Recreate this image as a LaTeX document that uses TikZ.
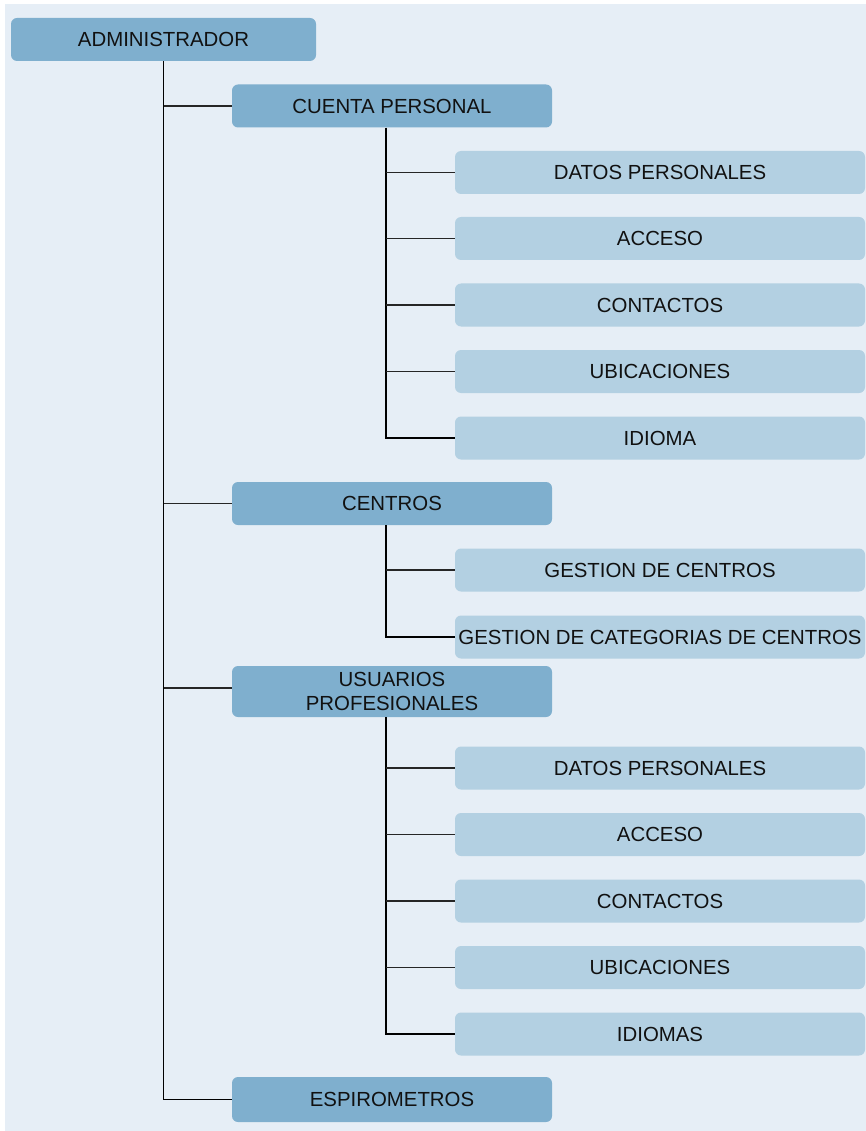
\documentclass[tikz,border=0pt]{standalone}
\usepackage{fontspec}
\setmainfont{Liberation Sans}
\definecolor{bgc}{HTML}{E6EEF6}
\definecolor{darkbox}{HTML}{7FAFCE}
\definecolor{lightbox}{HTML}{B3D0E2}
\definecolor{txt}{HTML}{111111}
\begin{document}
\begin{tikzpicture}[x=1pt,y=-1pt,
  base/.style={rectangle, rounded corners=6pt, inner sep=0pt, text=txt,
    font=\fontsize{20.4}{24}\selectfont, align=center},
  topbox/.style={base, fill=darkbox, minimum width=305pt, minimum height=43pt},
  midbox/.style={base, fill=darkbox, minimum width=320pt, minimum height=43pt},
  leafbox/.style={base, fill=lightbox, minimum width=410pt, minimum height=43pt},
  trunk/.style={draw=black, line width=1.5pt},
  branch/.style={draw=black!85, line width=1.1pt}]
\useasboundingbox (0,0) rectangle (866,1131);
\fill[bgc] (5,4) rectangle (866,1131);

\node[topbox] (admin) at (163.5,39.5) {ADMINISTRADOR};

\node[midbox] (cp) at (392,106) {CUENTA PERSONAL};
\node[leafbox] (cp1) at (660,172.5) {DATOS PERSONALES};
\node[leafbox] (cp2) at (660,238.5) {ACCESO};
\node[leafbox] (cp3) at (660,305) {CONTACTOS};
\node[leafbox] (cp4) at (660,371.5) {UBICACIONES};
\node[leafbox] (cp5) at (660,438) {IDIOMA};

\node[midbox] (ce) at (392,503.5) {CENTROS};
\node[leafbox] (ce1) at (660,570) {GESTION DE CENTROS};
\node[leafbox] (ce2) at (660,637) {GESTION DE CATEGORIAS DE CENTROS};

\node[midbox, minimum height=51pt] (up) at (392,691.5) {USUARIOS\\PROFESIONALES};
\node[leafbox] (up1) at (660,768) {DATOS PERSONALES};
\node[leafbox] (up2) at (660,834.5) {ACCESO};
\node[leafbox] (up3) at (660,901) {CONTACTOS};
\node[leafbox] (up4) at (660,967.5) {UBICACIONES};
\node[leafbox] (up5) at (660,1034) {IDIOMAS};

\node[midbox, minimum height=45pt] (es) at (392,1099.5) {ESPIROMETROS};

% main trunk
\draw[trunk] (admin.south) |- (es.west);
\foreach \n in {cp,ce} \draw[branch] (admin.south |- \n.west) -- (\n.west);
\draw[branch] (admin.south |- 0,688) -- (up.west |- 0,688);

% groups
\coordinate (cpx) at ([xshift=-6pt]cp.south);
\draw[trunk] (cpx) |- (cp5.west);
\foreach \n in {cp1,cp2,cp3,cp4} \draw[branch] (cpx |- \n.west) -- (\n.west);

\coordinate (cex) at ([xshift=-6pt]ce.south);
\draw[trunk] (cex) |- (ce2.west);
\draw[branch] (cex |- ce1.west) -- (ce1.west);

\coordinate (upx) at ([xshift=-6pt]up.south);
\draw[trunk] (upx) |- (up5.west);
\foreach \n in {up1,up2,up3,up4} \draw[branch] (upx |- \n.west) -- (\n.west);
\end{tikzpicture}
\end{document}
